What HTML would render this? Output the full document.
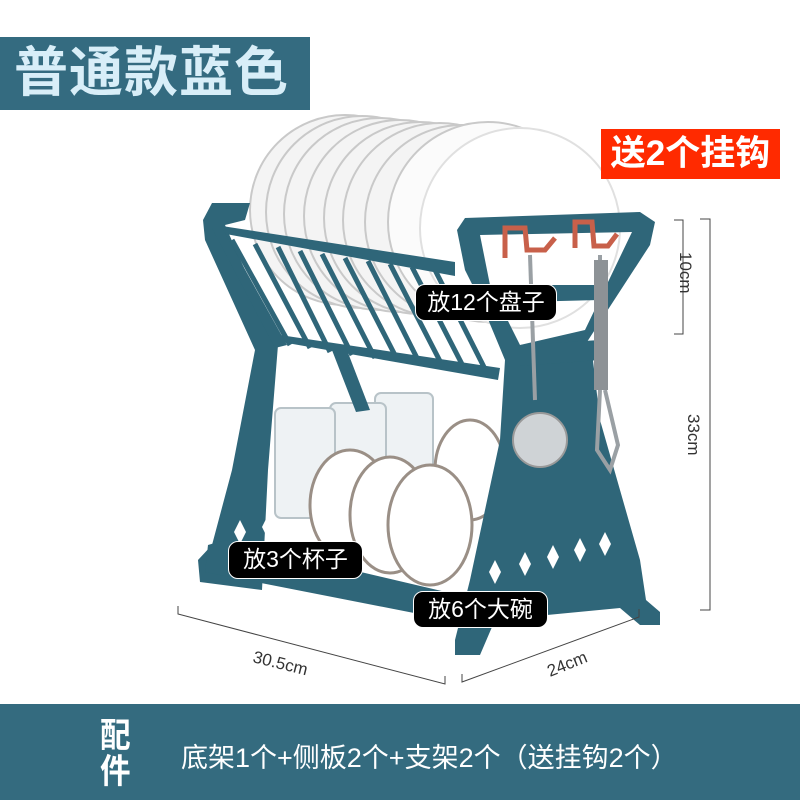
<!DOCTYPE html>
<html><head><meta charset="utf-8"><style>
html,body{margin:0;padding:0;background:#fff;}
body{width:800px;height:800px;position:relative;overflow:hidden;font-family:"Liberation Sans","Noto Sans CJK SC",sans-serif;}
.ban{position:absolute;left:0;top:37px;width:310px;height:73px;background:#346b80;}
.ban span{position:absolute;left:14px;top:5px;font-size:54px;font-weight:bold;color:#d8eef8;letter-spacing:1px;line-height:62px;}
.red{position:absolute;left:601px;top:129px;width:179px;height:50px;background:#ff2a00;color:#fff;font-size:35px;font-weight:bold;line-height:50px;text-align:center;white-space:nowrap;}
.bot{position:absolute;left:0;top:704px;width:800px;height:96px;background:#346b7f;color:#fff;}
.pj{position:absolute;left:100px;top:14px;width:36px;font-size:34px;font-weight:bold;line-height:36px;transform:scaleX(0.9);transform-origin:0 0;}
.bt{position:absolute;left:181px;top:39px;font-size:27px;line-height:30px;white-space:nowrap;}
.lab{position:absolute;background:#000;color:#fff;border:1.5px solid #fff;border-radius:10px;font-size:23px;line-height:34px;text-align:center;white-space:nowrap;}
svg{position:absolute;left:0;top:0;}
</style></head><body>
<svg width="800" height="800" viewBox="0 0 800 800">
 <g stroke="#c9c9c9" stroke-width="2" fill="#f4f4f4">
  <circle cx="345" cy="210" r="95"/>
  <circle cx="362" cy="212" r="96"/>
  <circle cx="380" cy="214" r="96"/>
  <circle cx="400" cy="216" r="96"/>
  <circle cx="420" cy="218" r="96"/>
  <circle cx="440" cy="220" r="97"/>
  <circle cx="462" cy="222" r="97"/>
  <circle cx="488" cy="222" r="100" fill="#fbfbfb"/>
  <circle cx="520" cy="228" r="100" fill="#ffffff" stroke="#e0e0e0"/>
 </g>
 <g fill="#eef2f4" stroke="#b8c3c8" stroke-width="2">
  <rect x="375" y="393" width="58" height="80" rx="6"/>
  <rect x="330" y="403" width="56" height="75" rx="6"/>
  <rect x="275" y="408" width="60" height="110" rx="6"/>
 </g>
 <g stroke="#9a8f86" stroke-width="3" fill="#ffffff">
  <ellipse cx="470" cy="470" rx="35" ry="50"/>
  <ellipse cx="350" cy="505" rx="40" ry="55"/>
  <ellipse cx="390" cy="515" rx="40" ry="58"/>
  <ellipse cx="430" cy="525" rx="42" ry="60"/>
  <ellipse cx="545" cy="490" rx="35" ry="55"/>
 </g>
 <g fill="#2f6679">
  <path d="M203 220 L212 203 L250 203 L245 220 L225 225 L278 345 L268 470 L262 590 L200 582 L198 560 L212 545 L232 470 L255 350 L205 240 Z"/>
  <path d="M215 232 L222 226 L455 262 L455 276 Z"/>
  <path d="M270 340 L280 335 L500 368 L498 380 Z"/>
  <path d="M212 228 L222 228 L287 345 L275 348 Z"/>
  <path d="M330 345 L345 345 L370 410 L356 412 Z"/>
  <path d="M457 230 L465 218 L640 212 L655 222 L650 245 L585 345 L592 352 L600 420 L640 560 L646 600 L660 612 L660 625 L640 625 L620 608 L495 620 L480 655 L455 655 L455 640 L470 580 L500 440 L505 360 L480 300 L465 270 Z M480 235 L490 285 L520 345 L585 330 L632 232 Z"/>
  <path d="M208 545 L225 540 L480 600 L475 625 L205 572 Z"/>
  <path d="M520 345 L600 340 L600 360 L520 366 Z"/>
  <path d="M520 285 L600 285 L600 300 L520 302 Z"/>
 </g>
 <g stroke="#2f6679" stroke-width="5">
  <line x1="232" y1="240" x2="290" y2="345"/><line x1="255" y1="244" x2="310" y2="348"/>
  <line x1="278" y1="247" x2="330" y2="352"/><line x1="300" y1="251" x2="352" y2="355"/>
  <line x1="322" y1="254" x2="375" y2="358"/><line x1="345" y1="258" x2="398" y2="361"/>
  <line x1="368" y1="261" x2="420" y2="364"/><line x1="390" y1="264" x2="443" y2="367"/>
  <line x1="412" y1="267" x2="465" y2="370"/><line x1="435" y1="270" x2="487" y2="373"/>
 </g>
 <g fill="#fff">
  <path d="M240 520 l6 12 l-6 12 l-6 -12z"/>
  <path d="M268 515 l6 12 l-6 12 l-6 -12z"/>
  <path d="M495 560 l6 12 l-6 12 l-6 -12z"/>
  <path d="M525 552 l6 12 l-6 12 l-6 -12z"/>
  <path d="M553 545 l6 12 l-6 12 l-6 -12z"/>
  <path d="M580 538 l6 12 l-6 12 l-6 -12z"/>
  <path d="M605 532 l6 12 l-6 12 l-6 -12z"/>
 </g>
 <g fill="none" stroke="#c8604a" stroke-width="5">
  <path d="M505 258 L505 228 L525 228 L527 250 L545 250 L555 238"/>
  <path d="M575 248 L575 222 L592 222 L594 246 L608 246 L617 234"/>
 </g>
 <g stroke="#9aa0a4" stroke-width="4" fill="none">
  <line x1="530" y1="255" x2="535" y2="400"/>
  <line x1="600" y1="255" x2="600" y2="390"/>
  <path d="M600 390 L597 450 L610 470 L618 445 L605 390"/>
 </g>
 <rect x="594" y="260" width="14" height="130" fill="#8d9296"/>
 <circle cx="540" cy="440" r="27" fill="#cfd3d6" stroke="#999" stroke-width="2"/>
 <g stroke="#444" stroke-width="1" fill="none">
  <path d="M674 220 L683 220 L683 334 L674 334"/>
  <path d="M700 219 L710 219 L710 610 L700 610"/>
  <path d="M178 606 L178 614 L445 684 L445 676"/>
  <path d="M462 674 L462 682 L639 617 L639 609"/>
 </g>
 <g fill="#333" font-family="Liberation Sans, sans-serif" font-size="17">
  <text transform="translate(680,252) rotate(90)">10cm</text>
  <text transform="translate(688,414) rotate(90)">33cm</text>
  <text transform="translate(252,662) rotate(14)">30.5cm</text>
  <text transform="translate(550,677) rotate(-22)">24cm</text>
 </g>
</svg>
<div class="ban"><span>普通款蓝色</span></div>
<div class="red">送2个挂钩</div>
<div class="lab" style="left:415px;top:284px;width:140px;height:35px;">放12个盘子</div>
<div class="lab" style="left:228px;top:541px;width:133px;height:36px;">放3个杯子</div>
<div class="lab" style="left:413px;top:591px;width:133px;height:35px;">放6个大碗</div>
<div class="bot"><div class="pj">配件</div><div class="bt">底架1个+侧板2个+支架2个（送挂钩2个）</div></div>
</body></html>
